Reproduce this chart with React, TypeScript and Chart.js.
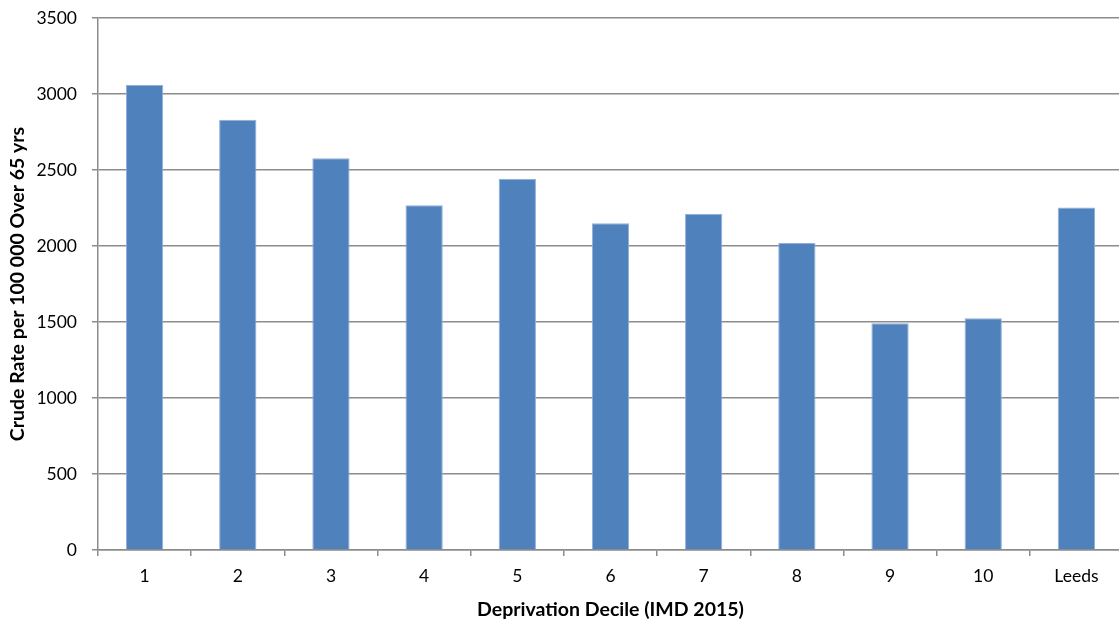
import React, { useEffect, useRef } from "react";
import { Chart, registerables } from "chart.js";

Chart.register(...registerables);

const categories = ["1", "2", "3", "4", "5", "6", "7", "8", "9", "10", "Leeds"];
const crudeRates = [3060, 2830, 2578, 2268, 2442, 2150, 2212, 2020, 1492, 1524, 2253];
const yTicks = [0, 500, 1000, 1500, 2000, 2500, 3000, 3500];

const FONT = "Lato, 'Open Sans', 'Liberation Sans', sans-serif";

export default function App() {
  const ref = useRef<HTMLCanvasElement | null>(null);

  useEffect(() => {
    document.body.style.margin = "0";
    const ctx = ref.current!;
    const chart = new Chart(ctx, {
      type: "bar",
      data: {
        labels: categories,
        datasets: [
          {
            data: crudeRates,
            backgroundColor: "#4F81BD",
            borderColor: "#8FB0D8",
            borderWidth: 1,
            barPercentage: 0.4,
            categoryPercentage: 1,
          },
        ],
      },
      options: {
        animation: false,
        responsive: false,
        maintainAspectRatio: false,
        layout: { padding: { top: 18, right: 0, left: 0, bottom: 0 } },
        plugins: { legend: { display: false }, tooltip: { enabled: false } },
        scales: {
          x: {
            grid: {
              offset: true,
              drawOnChartArea: false,
              drawTicks: true,
              tickLength: 6,
              color: "#8c8c8c",
              lineWidth: 1.5,
            },
            border: { color: "#8c8c8c", width: 1.5 },
            ticks: {
              color: "#000",
              font: { family: FONT, size: 17.5 },
              padding: 10,
            },
            title: {
              display: true,
              text: "Deprivation Decile (IMD 2015)",
              color: "#000",
              font: { family: FONT, size: 19.5, weight: "bold" },
              padding: { top: 0, bottom: 5 },
            },
            afterFit: (s: any) => {
              s.height = 76;
              s.paddingLeft = 0;
              s.paddingRight = 0;
            },
          },
          y: {
            min: 0,
            max: 3500,
            afterBuildTicks: (s: any) => {
              s.ticks = yTicks.map((v) => ({ value: v }));
            },
            grid: {
              color: "#8c8c8c",
              lineWidth: 1.5,
              drawTicks: true,
              tickLength: 6,
            },
            border: { color: "#8c8c8c", width: 1.5 },
            ticks: {
              color: "#000",
              font: { family: FONT, size: 17.5 },
              padding: 15,
              callback: (v: any) => String(v),
            },
            title: {
              display: true,
              text: "Crude Rate per 100 000 Over 65 yrs",
              color: "#000",
              font: { family: FONT, size: 19.5, weight: "bold" },
              padding: { top: 6, bottom: 0 },
            },
            afterFit: (s: any) => {
              s.width = 98;
              s.paddingTop = 0;
              s.paddingBottom = 0;
            },
          },
        },
      },
    });
    return () => chart.destroy();
  }, []);

  return (
    <div style={{ width: 1119, height: 626, overflow: "hidden" }}>
      <canvas ref={ref} width={1123} height={626} style={{ display: "block" }} />
    </div>
  );
}
